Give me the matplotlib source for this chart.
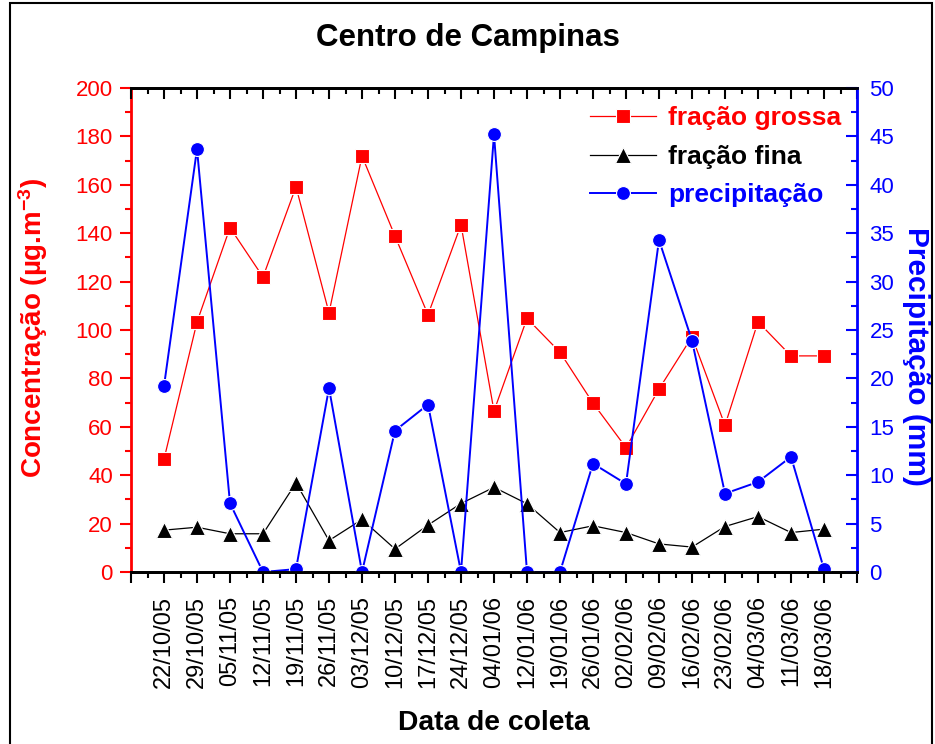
import numpy as np
import matplotlib
matplotlib.use('Agg')
import matplotlib.pyplot as plt
from matplotlib.ticker import MultipleLocator
from matplotlib.patches import Rectangle

plt.rcParams['font.family'] = ['Liberation Sans', 'DejaVu Sans']
plt.rcParams['mathtext.fontset'] = 'custom'
plt.rcParams['mathtext.rm'] = 'Liberation Sans'
plt.rcParams['mathtext.bf'] = 'Liberation Sans:bold'
plt.rcParams['mathtext.default'] = 'bf'

# dados
datas = ['22/10/05', '29/10/05', '05/11/05', '12/11/05', '19/11/05', '26/11/05',
         '03/12/05', '10/12/05', '17/12/05', '24/12/05', '04/01/06', '12/01/06',
         '19/01/06', '26/01/06', '02/02/06', '09/02/06', '16/02/06', '23/02/06',
         '04/03/06', '11/03/06', '18/03/06']
grossa = [46.6, 103.3, 142.3, 121.9, 159.2, 107.1, 171.9, 138.8, 106.3, 143.5, 66.5,
          104.8, 90.8, 69.8, 51.4, 75.6, 97.2, 60.6, 103.4, 89.3, 89.3]
fina = [17.3, 18.5, 15.8, 15.8, 36.8, 13.0, 21.7, 9.5, 19.4, 28.3, 35.0, 28.2,
        16.3, 19.1, 16.3, 11.6, 10.3, 18.8, 22.9, 16.3, 17.7]
precip = [19.2, 43.7, 7.1, 0.0, 0.3, 19.0, 0.0, 14.6, 17.3, 0.0, 45.2, 0.0,
          0.0, 11.2, 9.1, 34.3, 23.9, 8.1, 9.3, 11.9, 0.3]

x = np.arange(len(datas))

fig = plt.figure(figsize=(9.35, 7.44), dpi=100)
ax = fig.add_axes([131/935, 1-572/744, (857-131)/935, (572-88)/744])
ax2 = ax.twinx()

l1, = ax.plot(x, grossa, '-s', color='red', lw=0.9, ms=10, mec='white', mew=0.8,
              label='fração grossa')
l2, = ax.plot(x, fina, '-^', color='black', lw=0.9, ms=11, mec='white', mew=0.8,
              label='fração fina')
l3, = ax2.plot(x, precip, '-o', color='blue', lw=1.4, ms=10, mec='white', mew=0.8,
               label='precipitação')

ax.set_xlim(-1, len(datas))
ax.set_ylim(0, 200)
ax2.set_ylim(0, 50)

ax.set_xticks(np.arange(-1, len(datas) + 1))
ax.set_xticklabels([''] + datas + [''], rotation=90, fontsize=17)
ax.xaxis.set_minor_locator(MultipleLocator(0.5))
ax.yaxis.set_major_locator(MultipleLocator(20))
ax.yaxis.set_minor_locator(MultipleLocator(10))
ax2.yaxis.set_major_locator(MultipleLocator(5))
ax2.yaxis.set_minor_locator(MultipleLocator(2.5))

ax.tick_params(axis='x', which='both', direction='out', width=1.5, pad=9,
               top=False, colors='black')
ax.tick_params(axis='x', which='major', length=8)
ax.tick_params(axis='x', which='minor', length=4)
ax.tick_params(axis='y', which='both', direction='out', width=1.5, pad=5,
               colors='red', labelsize=16)
ax.tick_params(axis='y', which='major', length=8)
ax.tick_params(axis='y', which='minor', length=4)

# ticks de cima para dentro
ax2.xaxis.set_visible(True)
ax2.tick_params(axis='x', which='both', direction='in', width=1.5, top=True,
                bottom=False, labeltop=False, labelbottom=False)
ax2.tick_params(axis='x', which='major', length=8)
ax2.tick_params(axis='x', which='minor', length=4)
ax2.tick_params(axis='y', which='both', direction='in', width=1.5, pad=9,
                colors='blue', labelsize=16)
ax2.tick_params(axis='y', which='major', length=8)
ax2.tick_params(axis='y', which='minor', length=4)

for a in (ax, ax2):
    for s in a.spines.values():
        s.set_linewidth(2)
ax.spines['left'].set_color('red')
ax2.spines['left'].set_visible(False)
ax2.spines['right'].set_color('blue')
ax.spines['right'].set_visible(False)

ax.set_ylabel('Concentração (µg.m$^{-3}$)', color='red', fontsize=20,
              fontweight='bold')
ax.yaxis.set_label_coords(-0.111, 0.505)
ax2.set_ylabel('Precipitação (mm)', color='blue', fontsize=21.5,
               fontweight='bold', rotation=270, va='bottom')
ax2.yaxis.set_label_coords(1.062, 0.446)
ax.set_xlabel('Data de coleta', fontsize=20.3, fontweight='bold')
ax.xaxis.set_label_coords(0.5, -0.285)

fig.text(0.5, 1-46/744, 'Centro de Campinas', ha='center', va='baseline',
         fontsize=22.5, fontweight='bold')

leg = ax2.legend(handles=[l1, l2, l3], loc='upper right', bbox_to_anchor=(1.0, 0.995),
                 frameon=False, fontsize=19, handlelength=2.5, handletextpad=0.45,
                 labelspacing=0.55, borderaxespad=0.2, labelcolor='linecolor')
for t in leg.get_texts():
    t.set_fontweight('bold')

fig.patches.append(Rectangle((10/935, -0.01), (932-10)/935, 1.01-3/744,
                             transform=fig.transFigure, fill=False,
                             edgecolor='black', lw=1.5))

fig.savefig('out.png', dpi=100)
